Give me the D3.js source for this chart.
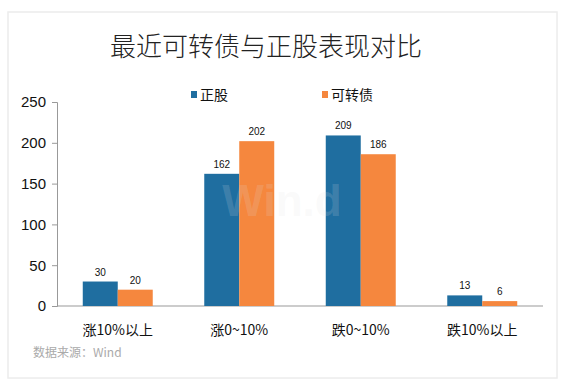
<!DOCTYPE html>
<html>
<head>
<meta charset="utf-8">
<script src="https://cdn.jsdelivr.net/npm/d3@7"></script>
<style>
  body { margin: 0; background: #fff; }
  svg { display: block; }
</style>
</head>
<body>
<svg width="566" height="386"></svg>
<script>
var categories = ["涨10%以上", "涨0~10%", "跌0~10%", "跌10%以上"];
var seriesNames = ["正股", "可转债"];
var stockValues = [30, 162, 209, 13];
var bondValues = [20, 202, 186, 6];
var yTicks = [0, 50, 100, 150, 200, 250];

var svg = d3.select("svg"),
    width = +svg.attr("width"),
    height = +svg.attr("height");

var colors = ["#1f6ea0", "#f5873e"];
var font = "'Liberation Sans', Arial, 'Noto Sans CJK SC', sans-serif";
var cjk = "'Noto Sans CJK SC', sans-serif";

// card
svg.append("rect")
   .attr("x", 8).attr("y", 12)
   .attr("width", 549).attr("height", 366)
   .attr("fill", "#fff")
   .attr("stroke", "#ececec")
   .attr("stroke-width", 1.5);

svg.append("text")
   .attr("x", 266).attr("y", 56)
   .attr("text-anchor", "middle")
   .attr("font-family", cjk)
   .attr("font-size", 26)
   .attr("font-weight", 300)
   .attr("fill", "#222")
   .text("最近可转债与正股表现对比");

var x0 = d3.scaleBand().domain(categories).range([57, 543]).paddingInner(0.424).paddingOuter(0.212);
var x1 = d3.scaleBand().domain(seriesNames).range([0, x0.bandwidth()]);
var y = d3.scaleLinear().domain([0, 250]).range([306, 102]);

// y axis
var yAxis = svg.append("g")
   .attr("transform", "translate(57,0)")
   .call(d3.axisLeft(y).tickValues(yTicks).tickSize(5).tickPadding(6));
yAxis.select(".domain").attr("stroke", "#999");
yAxis.selectAll(".tick line").attr("stroke", "#999");
yAxis.selectAll("text")
   .attr("font-family", font)
   .attr("font-size", 15)
   .attr("fill", "#111");

// x axis baseline
svg.append("line")
   .attr("x1", 57).attr("x2", 543)
   .attr("y1", y(0)).attr("y2", y(0))
   .attr("stroke", "#999");

var rows = categories.map(function(c, i) {
  return { cat: c, values: [stockValues[i], bondValues[i]] };
});

var groups = svg.append("g").selectAll("g")
   .data(rows).enter().append("g")
   .attr("transform", function(d) { return "translate(" + x0(d.cat) + ",0)"; });

groups.selectAll("rect")
   .data(function(d) { return d.values.map(function(v, j) { return { s: seriesNames[j], v: v, j: j }; }); })
   .enter().append("rect")
   .attr("x", function(d) { return x1(d.s); })
   .attr("y", function(d) { return y(d.v); })
   .attr("width", x1.bandwidth())
   .attr("height", function(d) { return y(0) - y(d.v); })
   .attr("fill", function(d) { return colors[d.j]; });

groups.selectAll("text.val")
   .data(function(d) { return d.values.map(function(v, j) { return { s: seriesNames[j], v: v }; }); })
   .enter().append("text")
   .attr("class", "val")
   .attr("x", function(d) { return x1(d.s) + x1.bandwidth() / 2; })
   .attr("y", function(d) { return y(d.v) - 6; })
   .attr("text-anchor", "middle")
   .attr("font-family", font)
   .attr("font-size", 10)
   .attr("fill", "#111")
   .text(function(d) { return d.v; });

// watermark over the bars
svg.append("text")
   .attr("x", 282).attr("y", 216)
   .attr("text-anchor", "middle")
   .attr("font-family", font)
   .attr("font-size", 44)
   .attr("font-weight", "bold")
   .attr("fill", "#e0e0e0")
   .attr("fill-opacity", 0.18)
   .text("Win.d");

// category labels
svg.append("g").selectAll("text")
   .data(categories).enter().append("text")
   .attr("x", function(d) { return x0(d) + x0.bandwidth() / 2; })
   .attr("y", 335)
   .attr("text-anchor", "middle")
   .attr("font-family", cjk)
   .attr("font-size", 14)
   .attr("fill", "#111")
   .text(function(d) { return d; });

// legend
var legendX = [191, 322];
seriesNames.forEach(function(name, i) {
  svg.append("rect")
     .attr("x", legendX[i]).attr("y", 91)
     .attr("width", 6).attr("height", 7)
     .attr("fill", colors[i]);
  svg.append("text")
     .attr("x", legendX[i] + 9).attr("y", 100)
     .attr("font-family", cjk)
     .attr("font-size", 14)
     .attr("fill", "#111")
     .text(name);
});

svg.append("text")
   .attr("x", 33).attr("y", 357)
   .attr("font-family", cjk)
   .attr("font-size", 12)
   .attr("fill", "#aaa")
   .text("数据来源：Wind");
</script>
</body>
</html>
